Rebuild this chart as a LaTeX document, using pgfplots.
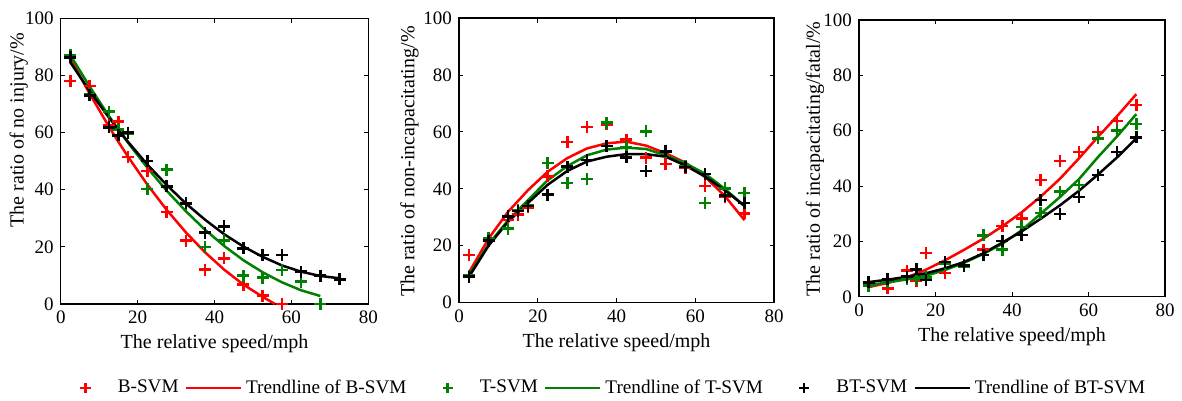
\documentclass[border=0pt]{standalone}
\usepackage{fontspec}
\setmainfont{Liberation Serif}
\usepackage{pgfplots}
\pgfplotsset{compat=1.18}

\definecolor{mred}{rgb}{1,0,0}
\definecolor{mgreen}{rgb}{0,0.5,0}

\pgfplotsset{
  panel/.style={
    scale only axis,
    anchor=north west,
    xmin=0, xmax=80, ymin=0, ymax=100,
    xtick={0,20,40,60,80}, ytick={0,20,40,60,80,100},
    tick align=inside,
    major tick length=2.2pt,
    axis line style={line width=0.7pt},
    every tick/.style={black, line width=0.5pt},
    tick label style={font=\fontsize{9.5}{11}\selectfont},
    label style={font=\fontsize{10}{12}\selectfont},
    /pgf/number format/assume math mode=true,
    clip=false,
    every axis x label/.style={at={(axis description cs:0.5,0)}, anchor=center, yshift=-20pt},
  },
  pts/.style={only marks, mark=+, mark size=3pt, line width=1.25pt,
    legend image code/.code={\path (-17pt,0pt) (13.5pt,0pt);
      \draw[##1, mark size=2.6pt] plot coordinates {(0pt,0pt)};}},
  trend/.style={no marks, line width=1.25pt,
    legend image code/.code={\draw[##1] (0pt,0pt) -- (27.5pt,0pt);}},
}

\begin{document}
\begin{tikzpicture}
\useasboundingbox (0,0) rectangle (591pt,-200.5pt);

% no injury
\begin{axis}[panel, at={(30.4pt,-9.1pt)}, width=153.8pt, height=142.9pt,
  xlabel={The relative speed/mph},
  ylabel={The ratio of no injury/\%},
  ylabel style={at={(axis description cs:-0.137,0.608)}, anchor=center},
  legend style={at={(axis description cs:1.752,-0.294)}, anchor=center,
    draw=none, fill=none, legend columns=6,
    font=\fontsize{9.6}{11}\selectfont,
    /tikz/every even column/.append style={column sep=1pt}},
  legend cell align=left]
\addplot[pts, color=mred] coordinates {(2.5,78) (7.5,76.3) (12.5,62.5) (15,63.8) (17.5,51.4) (22.5,46.6) (27.5,32.2) (32.5,22.2) (37.5,12) (42.5,16) (47.5,6.8) (52.5,2.9) (57.5,0)};
\addlegendentry{B-SVM}
\addplot[trend, color=mred] coordinates {(2.5,86) (7.5,73.6) (12.5,62.1) (15,56.7) (17.5,51.5) (22.5,41.8) (27.5,33) (32.5,25.1) (37.5,18.1) (42.5,12) (47.5,6.8) (52.5,2.5) (55.7,0)};
\addlegendentry{Trendline of B-SVM}
\addplot[pts, color=mgreen] coordinates {(2.5,87.2) (7.5,73.5) (12.5,67.3) (15,61) (17.5,59.7) (22.5,40.3) (27.5,47) (32.5,35) (37.5,20) (42.5,22.3) (47.5,9.9) (52.5,9.2) (57.5,11.9) (62.5,7.8) (67.5,0)};
\addlegendentry{T-SVM}
\addplot[trend, color=mgreen] coordinates {(2.5,87) (7.5,76.1) (12.5,65.8) (15,61) (17.5,56.4) (22.5,47.7) (27.5,39.7) (32.5,32.5) (37.5,26) (42.5,20.3) (47.5,15.3) (52.5,11.1) (57.5,7.6) (62.5,4.8) (67.5,2.8)};
\addlegendentry{Trendline of T-SVM}
\addplot[pts, color=black] coordinates {(2.5,86.3) (7.5,73) (12.5,61.8) (15,59) (17.5,60) (22.5,50) (27.5,41.2) (32.5,35.2) (37.5,25) (42.5,27.2) (47.5,19.5) (52.5,17.1) (57.5,17.1) (62.5,11.3) (67.5,9.9) (72.5,8.6)};
\addlegendentry{BT-SVM}
\addplot[trend, color=black] coordinates {(2.5,84.5) (7.5,74.5) (12.5,65.3) (15,60.9) (17.5,56.7) (22.5,48.8) (27.5,41.7) (32.5,35.2) (37.5,29.5) (42.5,24.4) (47.5,20.1) (52.5,16.5) (57.5,13.5) (62.5,11.3) (67.5,9.8) (72.5,9)};
\addlegendentry{Trendline of BT-SVM}
\end{axis}

% non-incapacitating
\begin{axis}[panel, at={(229.5pt,-9.1pt)}, width=157.5pt, height=142.2pt,
  xlabel={The relative speed/mph},
  ylabel={The ratio of non-incapacitating/\%},
  ylabel style={at={(axis description cs:-0.157,0.496)}, anchor=center}]
\addplot[pts, color=mred] coordinates {(2.5,16.8) (7.5,22) (12.5,29) (15,30.9) (17.5,33.5) (22.5,44.4) (27.5,56.4) (32.5,61.7) (37.5,62.7) (42.5,57.3) (47.5,51) (52.5,48.7) (57.5,47.5) (62.5,41) (67.5,37.3) (72.5,31.4)};
\addplot[trend, color=mred] coordinates {(2.5,10.5) (7.5,22.5) (12.5,32) (17.5,39.5) (22.5,46) (27.5,50.8) (32.5,54.2) (37.5,56) (42.5,56.6) (47.5,55.2) (52.5,52.5) (57.5,49.2) (62.5,44.2) (67.5,37.5) (72.5,29)};
\addplot[pts, color=mgreen] coordinates {(2.5,9.5) (7.5,22.6) (12.5,26) (15,32.5) (17.5,34.2) (22.5,49.1) (27.5,42) (32.5,43.4) (37.5,63.3) (42.5,54.6) (47.5,60.2) (52.5,53) (57.5,48) (62.5,35.1) (67.5,40.2) (72.5,38.5)};
\addplot[trend, color=mgreen] coordinates {(2.5,9.5) (7.5,20.5) (12.5,29) (17.5,36) (22.5,43) (27.5,48) (32.5,51.8) (37.5,53.8) (42.5,54.5) (47.5,54) (52.5,51.8) (57.5,49) (62.5,45.3) (67.5,40) (72.5,34)};
\addplot[pts, color=black] coordinates {(2.5,9.1) (7.5,21.8) (12.5,30.3) (15,32.2) (17.5,34) (22.5,38) (27.5,47.8) (32.5,50.2) (37.5,55) (42.5,51.1) (47.5,46.3) (52.5,53.2) (57.5,47.7) (62.5,45.2) (67.5,37.6) (72.5,35.1)};
\addplot[trend, color=black] coordinates {(2.5,9) (7.5,20) (12.5,28.5) (17.5,35) (22.5,41.4) (27.5,46.3) (32.5,49.6) (37.5,51.3) (42.5,52.2) (47.5,52.2) (52.5,51.3) (57.5,48.2) (62.5,44.3) (67.5,39.5) (72.5,34)};
\end{axis}

% incapacitating/fatal
\begin{axis}[panel, at={(429.5pt,-10pt)}, width=153pt, height=138.4pt,
  xlabel={The relative speed/mph},
  ylabel={The ratio of incapacitating/fatal/\%},
  ylabel style={at={(axis description cs:-0.144,0.498)}, anchor=center}]
\addplot[pts, color=mred] coordinates {(2.5,4) (7.5,3) (12.5,9.5) (15,5.8) (17.5,15.8) (22.5,8.6) (27.5,11.5) (32.5,17) (37.5,25.6) (42.5,28.2) (47.5,42.2) (52.5,49) (57.5,52.4) (62.5,59.6) (67.5,63.6) (72.5,69.3)};
\addplot[trend, color=mred] coordinates {(2.5,3.5) (7.5,5) (12.5,7) (17.5,9.8) (22.5,13.2) (27.5,17) (32.5,21) (37.5,25.5) (42.5,30.5) (47.5,36.2) (52.5,42.6) (57.5,50) (62.5,57.8) (67.5,65.3) (72.5,73.2)};
\addplot[pts, color=mgreen] coordinates {(2.5,4) (7.5,5.5) (12.5,6.6) (15,6.6) (17.5,7) (22.5,12) (27.5,11) (32.5,22.2) (37.5,17) (42.5,25.2) (47.5,30.3) (52.5,38) (57.5,40.4) (62.5,57.2) (67.5,60) (72.5,62.4)};
\addplot[trend, color=mgreen] coordinates {(2.5,4.2) (7.5,5.2) (12.5,6.3) (17.5,7.6) (22.5,9.7) (27.5,12.3) (32.5,15.5) (37.5,19.2) (42.5,24) (47.5,30) (52.5,36) (57.5,42.5) (62.5,50.5) (67.5,58) (72.5,66)};
\addplot[pts, color=black] coordinates {(2.5,5.2) (7.5,6.3) (12.5,7.3) (15,9.9) (17.5,6) (22.5,12.5) (27.5,11.3) (32.5,15.1) (37.5,20.2) (42.5,22.3) (47.5,35) (52.5,30) (57.5,36.1) (62.5,44) (67.5,52.4) (72.5,57.6)};
\addplot[trend, color=black] coordinates {(2.5,5.3) (7.5,6.2) (12.5,7.2) (17.5,8.5) (22.5,10.3) (27.5,12.6) (32.5,15.7) (37.5,19.6) (42.5,23.6) (47.5,28.2) (52.5,33) (57.5,38.3) (62.5,44.2) (67.5,50.4) (72.5,57.2)};
\end{axis}
\end{tikzpicture}
\end{document}
